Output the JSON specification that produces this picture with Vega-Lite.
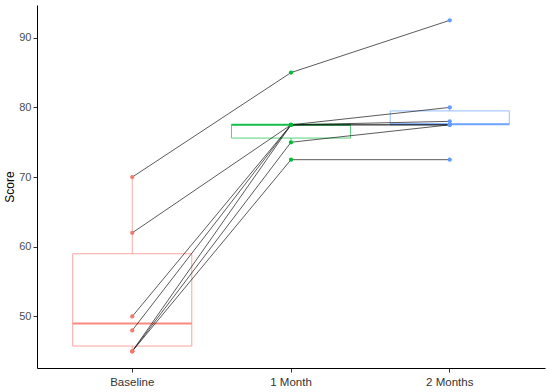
{
  "$schema": "https://vega.github.io/schema/vega-lite/v6.json",
  "autosize": "none",
  "width": 508,
  "height": 363,
  "padding": {"left": 37, "top": 5, "right": 5, "bottom": 24},
  "background": "white",
  "config": {
    "view": {"stroke": null},
    "font": "Liberation Sans",
    "axis": {"grid": false, "domainColor": "#000000", "tickColor": "#333333", "tickSize": 4, "labelFontSize": 11, "labelColor": "#4D4D4D", "titleFontWeight": "normal", "titleFontSize": 12, "titleColor": "#000000"}
  },
  "datasets": {
    "obs": [
      {"subject": "S1", "time": "Baseline", "score": 70},
      {"subject": "S1", "time": "1 Month", "score": 85},
      {"subject": "S1", "time": "2 Months", "score": 92.5},
      {"subject": "S2", "time": "Baseline", "score": 62},
      {"subject": "S2", "time": "1 Month", "score": 77.5},
      {"subject": "S2", "time": "2 Months", "score": 80},
      {"subject": "S3", "time": "Baseline", "score": 50},
      {"subject": "S3", "time": "1 Month", "score": 77.5},
      {"subject": "S3", "time": "2 Months", "score": 78},
      {"subject": "S4", "time": "Baseline", "score": 48},
      {"subject": "S4", "time": "1 Month", "score": 77.5},
      {"subject": "S4", "time": "2 Months", "score": 77.5},
      {"subject": "S5", "time": "Baseline", "score": 45},
      {"subject": "S5", "time": "1 Month", "score": 77.5},
      {"subject": "S5", "time": "2 Months", "score": 77.5},
      {"subject": "S6", "time": "Baseline", "score": 45},
      {"subject": "S6", "time": "1 Month", "score": 75},
      {"subject": "S6", "time": "2 Months", "score": 77.5},
      {"subject": "S7", "time": "Baseline", "score": 45},
      {"subject": "S7", "time": "1 Month", "score": 72.5},
      {"subject": "S7", "time": "2 Months", "score": 72.5}
    ],
    "box": [
      {"time": "Baseline", "lo": 45, "q1": 45.75, "median": 49, "q3": 59, "hi": 70},
      {"time": "1 Month", "lo": 75, "q1": 75.6, "median": 77.5, "q3": 77.5, "hi": 77.5},
      {"time": "2 Months", "lo": 77.6, "q1": 77.6, "median": 77.6, "q3": 79.5, "hi": 80}
    ]
  },
  "encoding": {
    "x": {
      "field": "time", "type": "nominal",
      "sort": ["Baseline", "1 Month", "2 Months"],
      "scale": {"type": "band", "domain": ["Baseline", "1 Month", "2 Months"], "paddingInner": 0.25, "paddingOuter": 0.225},
      "axis": {"title": null, "labelAngle": 0, "labelColor": "#333333", "labelFontSize": 11.5, "labelPadding": 4}
    }
  },
  "layer": [
    {
      "data": {"name": "box"},
      "mark": {"type": "rule", "strokeWidth": 1, "opacity": 0.6},
      "encoding": {
        "x": {"field": "time", "type": "nominal", "bandPosition": 0.5},
        "y": {"field": "q3", "type": "quantitative"},
        "y2": {"field": "hi"},
        "color": {"field": "time", "type": "nominal", "scale": {"domain": ["Baseline", "1 Month", "2 Months"], "range": ["#F8766D", "#00BA38", "#619CFF"]}, "legend": null}
      }
    },
    {
      "data": {"name": "box"},
      "mark": {"type": "rule", "strokeWidth": 1, "opacity": 0.6},
      "encoding": {
        "x": {"field": "time", "type": "nominal", "bandPosition": 0.5},
        "y": {"field": "lo", "type": "quantitative"},
        "y2": {"field": "q1"},
        "color": {"field": "time", "type": "nominal", "legend": null}
      }
    },
    {
      "data": {"name": "box"},
      "mark": {"type": "bar", "filled": false, "strokeWidth": 1, "opacity": 0.65},
      "encoding": {
        "y": {"field": "q1", "type": "quantitative", "title": "Score", "scale": {"domain": [42.6, 94.7], "nice": false, "zero": false}, "axis": {"values": [50, 60, 70, 80, 90], "titlePadding": 2, "labelPadding": 2}},
        "y2": {"field": "q3"},
        "color": {"field": "time", "type": "nominal", "legend": null}
      }
    },
    {
      "data": {"name": "box"},
      "mark": {"type": "bar", "filled": false, "strokeWidth": 2, "opacity": 0.85},
      "encoding": {
        "y": {"field": "median", "type": "quantitative"},
        "y2": {"field": "median"},
        "color": {"field": "time", "type": "nominal", "legend": null}
      }
    },
    {
      "data": {"name": "obs"},
      "mark": {"type": "line", "color": "#1a1a1a", "strokeWidth": 0.9, "opacity": 0.8},
      "encoding": {
        "x": {"field": "time", "type": "nominal", "bandPosition": 0.5},
        "y": {"field": "score", "type": "quantitative"},
        "detail": {"field": "subject"}
      }
    },
    {
      "data": {"name": "obs"},
      "mark": {"type": "point", "filled": true, "size": 18, "opacity": 1},
      "encoding": {
        "x": {"field": "time", "type": "nominal", "bandPosition": 0.5},
        "y": {"field": "score", "type": "quantitative"},
        "color": {"field": "time", "type": "nominal", "legend": null}
      }
    }
  ]
}
